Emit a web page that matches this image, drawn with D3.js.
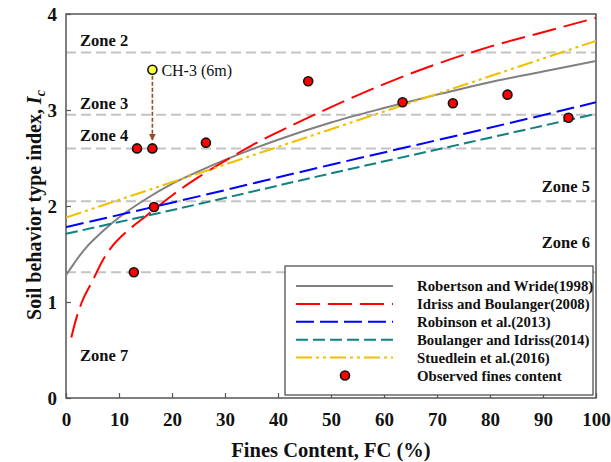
<!DOCTYPE html>
<html>
<head>
<meta charset="utf-8">
<script src="https://cdn.jsdelivr.net/npm/d3@7"></script>
<style>
  body { margin: 0; background: #fff; }
  text { font-family: "Liberation Serif", "Times New Roman", serif; }
</style>
</head>
<body>
<div id="chart"></div>
<script>
// curves (FC %, Ic)
const robertsonFC = [0, 1, 2, 4, 6, 8, 10, 15, 20, 25, 30, 40, 50, 60, 70, 80, 90, 100];
const robertsonIc = [1.28, 1.36, 1.44, 1.58, 1.69, 1.79, 1.88, 2.07, 2.23, 2.36, 2.48, 2.69, 2.87, 3.02, 3.16, 3.29, 3.40, 3.51];

const idrissFC = [1, 2, 3, 5, 7, 9, 12, 15, 17, 20, 25, 30, 35, 40, 50, 60, 70, 80, 90, 100];
const idrissIc = [0.63, 0.84, 1.00, 1.22, 1.44, 1.60, 1.76, 1.89, 1.98, 2.11, 2.30, 2.47, 2.63, 2.77, 3.03, 3.27, 3.48, 3.66, 3.81, 3.96];

const robinsonFC = [0, 25, 50, 75, 100];
const robinsonIc = [1.78, 2.10, 2.43, 2.75, 3.08];

const boulangerFC = [0, 25, 50, 75, 100];
const boulangerIc = [1.71, 2.02, 2.34, 2.65, 2.96];

const stuedleinFC = [0, 25, 50, 75, 100];
const stuedleinIc = [1.88, 2.34, 2.80, 3.26, 3.72];

const observedFC = [12.8, 13.4, 16.3, 16.6, 26.4, 45.7, 63.5, 73.0, 83.3, 94.8];
const observedIc = [1.31, 2.60, 2.60, 1.99, 2.66, 3.30, 3.08, 3.07, 3.16, 2.92];

const ch3FC = 16.3;
const ch3Ic = 3.42;
const ch3ArrowIc = 2.68;
const ch3Label = "CH-3 (6m)";

const zoneBounds = [3.6, 2.95, 2.6, 2.05, 1.31];
const zoneNames = ["Zone 2", "Zone 3", "Zone 4", "Zone 5", "Zone 6", "Zone 7"];

const xTicks = [0, 10, 20, 30, 40, 50, 60, 70, 80, 90, 100];
const yTicks = [0, 1, 2, 3, 4];

const seriesNames = [
    "Robertson and Wride(1998)",
    "Idriss and Boulanger(2008)",
    "Robinson et al.(2013)",
    "Boulanger and Idriss(2014)",
    "Stuedlein et al.(2016)",
    "Observed fines content"
];

const width = 611, height = 462;
const plot = { left: 66, right: 596, top: 14, bottom: 398 };
const axisColor = "#555";

const svg = d3.select("#chart").append("svg")
    .attr("width", width)
    .attr("height", height);

const x = d3.scaleLinear().domain([0, 100]).range([plot.left, plot.right]);
const y = d3.scaleLinear().domain([0, 4]).range([plot.bottom, plot.top]);

svg.append("defs").append("clipPath")
    .attr("id", "plotClip")
    .append("rect")
    .attr("x", plot.left).attr("y", plot.top)
    .attr("width", plot.right - plot.left)
    .attr("height", plot.bottom - plot.top);

// zone boundaries
svg.selectAll(".zone")
    .data(zoneBounds)
    .enter()
    .append("line")
    .attr("class", "zone")
    .attr("x1", plot.left).attr("x2", plot.right)
    .attr("y1", d => y(d)).attr("y2", d => y(d))
    .attr("stroke", "#c4c4c4")
    .attr("stroke-width", 2)
    .attr("stroke-dasharray", "10,5");

const zoneLabelPos = [
    { x: plot.left + 14, y: y(zoneBounds[0]) - 6, anchor: "start" },
    { x: plot.left + 14, y: y(zoneBounds[1]) - 6, anchor: "start" },
    { x: plot.left + 14, y: y(zoneBounds[2]) - 7, anchor: "start" },
    { x: plot.right - 6, y: y(zoneBounds[3]) - 9, anchor: "end" },
    { x: plot.right - 6, y: y(zoneBounds[4]) - 24, anchor: "end" },
    { x: plot.left + 14, y: 361, anchor: "start" }
];

svg.selectAll(".zoneLabel")
    .data(zoneNames)
    .enter()
    .append("text")
    .attr("class", "zoneLabel")
    .attr("x", (d, i) => zoneLabelPos[i].x)
    .attr("y", (d, i) => zoneLabelPos[i].y)
    .attr("text-anchor", (d, i) => zoneLabelPos[i].anchor)
    .attr("font-size", 16.5)
    .attr("font-weight", "bold")
    .attr("fill", "#111")
    .text(d => d);

// axes
const xAxis = svg.append("g")
    .attr("transform", `translate(0,${plot.bottom})`)
    .call(d3.axisBottom(x).tickValues(xTicks).tickSize(-5).tickPadding(15).tickFormat(d3.format("d")));

const yAxis = svg.append("g")
    .attr("transform", `translate(${plot.left},0)`)
    .call(d3.axisLeft(y).tickValues(yTicks).tickSize(-5).tickPadding(9).tickFormat(d3.format("d")));

[xAxis, yAxis].forEach(g => {
    g.select(".domain").remove();
    g.selectAll(".tick line").attr("stroke", axisColor).attr("stroke-width", 1.2);
    g.selectAll(".tick text")
        .attr("font-family", '"Liberation Serif", serif')
        .attr("font-size", 19)
        .attr("font-weight", "bold")
        .attr("fill", "#111");
});

svg.append("rect")
    .attr("x", plot.left).attr("y", plot.top)
    .attr("width", plot.right - plot.left)
    .attr("height", plot.bottom - plot.top)
    .attr("fill", "none")
    .attr("stroke", axisColor)
    .attr("stroke-width", 1.5);

svg.append("text")
    .attr("x", (plot.left + plot.right) / 2)
    .attr("y", 457)
    .attr("text-anchor", "middle")
    .attr("font-size", 20.5)
    .attr("font-weight", "bold")
    .attr("fill", "#111")
    .text("Fines Content, FC (%)");

const yTitle = svg.append("text")
    .attr("transform", "translate(41,205) rotate(-90)")
    .attr("text-anchor", "middle")
    .attr("font-size", 20)
    .attr("font-weight", "bold")
    .attr("fill", "#111");
yTitle.append("tspan").text("Soil behavior type index, ");
yTitle.append("tspan").attr("font-style", "italic").text("I");
yTitle.append("tspan").attr("font-style", "italic").attr("font-size", 14).attr("dy", 4).text("c");

// curves
const series = [
    { fc: robertsonFC, ic: robertsonIc, color: "#808080", dash: null },
    { fc: idrissFC, ic: idrissIc, color: "#ff0000", dash: "24,8" },
    { fc: robinsonFC, ic: robinsonIc, color: "#0000ff", dash: "18,6" },
    { fc: boulangerFC, ic: boulangerIc, color: "#108080", dash: "12,5" },
    { fc: stuedleinFC, ic: stuedleinIc, color: "#f0c000", dash: "16,4,3,4,3,4" }
];

const line = d3.line()
    .x(d => x(d[0]))
    .y(d => y(d[1]))
    .curve(d3.curveMonotoneX);

svg.append("g")
    .attr("clip-path", "url(#plotClip)")
    .selectAll(".curve")
    .data(series)
    .enter()
    .append("path")
    .attr("class", "curve")
    .attr("d", s => line(d3.zip(s.fc, s.ic)))
    .attr("fill", "none")
    .attr("stroke", s => s.color)
    .attr("stroke-width", 2)
    .attr("stroke-dasharray", s => s.dash);

// CH-3 arrow
svg.select("defs").append("marker")
    .attr("id", "arrowHead")
    .attr("viewBox", "0 0 10 10")
    .attr("refX", 10).attr("refY", 5)
    .attr("markerWidth", 7).attr("markerHeight", 7)
    .attr("markerUnits", "userSpaceOnUse")
    .attr("orient", "auto")
    .append("path")
    .attr("d", "M0,0L10,5L0,10Z")
    .attr("fill", "#9a4a1c");

svg.append("line")
    .attr("x1", x(ch3FC)).attr("y1", y(ch3Ic) + 6)
    .attr("x2", x(ch3FC)).attr("y2", y(ch3ArrowIc))
    .attr("stroke", "#9a4a1c")
    .attr("stroke-width", 1.6)
    .attr("stroke-dasharray", "4,2")
    .attr("marker-end", "url(#arrowHead)");

// observed points
svg.selectAll(".obs")
    .data(d3.zip(observedFC, observedIc))
    .enter()
    .append("circle")
    .attr("class", "obs")
    .attr("cx", d => x(d[0]))
    .attr("cy", d => y(d[1]))
    .attr("r", 4.5)
    .attr("fill", "#ff0000")
    .attr("stroke", "#111")
    .attr("stroke-width", 1.6);

svg.append("circle")
    .attr("cx", x(ch3FC)).attr("cy", y(ch3Ic))
    .attr("r", 4.5)
    .attr("fill", "#ffff33")
    .attr("stroke", "#111")
    .attr("stroke-width", 1.6);

svg.append("text")
    .attr("x", x(ch3FC) + 9)
    .attr("y", y(ch3Ic) + 6)
    .attr("font-size", 16)
    .attr("fill", "#111")
    .text(ch3Label);

// legend
const legend = svg.append("g");
legend.append("rect")
    .attr("x", 285).attr("y", 266)
    .attr("width", 308).attr("height", 129)
    .attr("fill", "#fff")
    .attr("stroke", "#444")
    .attr("stroke-width", 1.2);

const rowY = i => 286 + i * 17.9;

legend.selectAll(".legLine")
    .data(series)
    .enter()
    .append("line")
    .attr("x1", 296).attr("x2", 393)
    .attr("y1", (d, i) => rowY(i)).attr("y2", (d, i) => rowY(i))
    .attr("stroke", d => d.color)
    .attr("stroke-width", 2)
    .attr("stroke-dasharray", d => d.dash);

legend.append("circle")
    .attr("cx", 345).attr("cy", rowY(5))
    .attr("r", 4.5)
    .attr("fill", "#ff0000")
    .attr("stroke", "#111")
    .attr("stroke-width", 1.6);

legend.selectAll(".legText")
    .data(seriesNames)
    .enter()
    .append("text")
    .attr("x", 417)
    .attr("y", (d, i) => rowY(i) + 5)
    .attr("font-size", 14.8)
    .attr("font-weight", "bold")
    .attr("fill", "#111")
    .text(d => d);
</script>
</body>
</html>
